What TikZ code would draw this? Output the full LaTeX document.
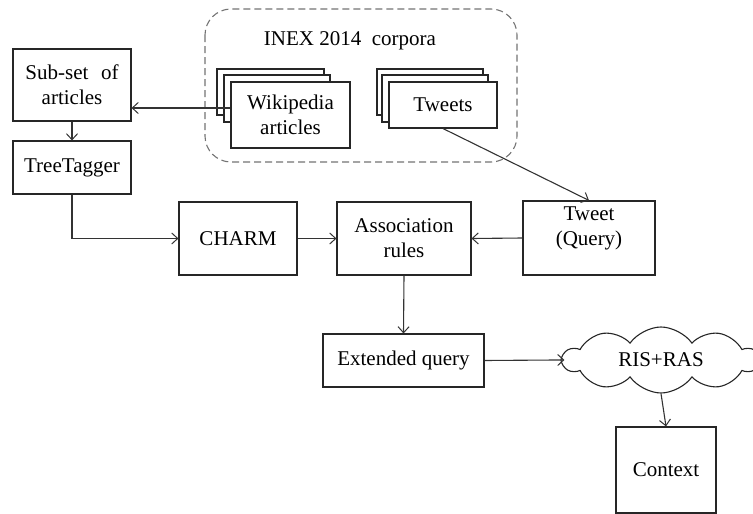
\documentclass[tikz,border=0pt]{standalone}
\usepackage{fontspec}
\setmainfont{Liberation Serif}
\usetikzlibrary{arrows.meta,shapes.symbols}

\tikzset{
  box/.style={draw=black!85, line width=1.1pt, fill=white, rectangle, inner sep=0pt,
              align=center, font=\fontsize{21}{25}\selectfont},
  page/.style={draw=black!85, line width=1.1pt, fill=white},
  link/.style={draw=black!80, line width=1.1pt,
               -{Straight Barb[length=6pt,width=11pt,line width=1pt]}},
  corpus/.style={draw=black!55, line width=1.1pt, dash pattern=on 7pt off 4pt,
                 rounded corners=26pt},
  lbl/.style={align=center, font=\fontsize{21}{25}\selectfont}
}

\begin{document}
\begin{tikzpicture}[x=1pt,y=-1pt]
\useasboundingbox (0,0) rectangle (753,514);
\clip (0,0) rectangle (753,514);

% corpus frame
\draw[corpus] (205,9) rectangle (517,162);
\node[lbl] (inex) at (350,41) {INEX 2014\hspace{0.5em}corpora};

% stacked Wikipedia pages
\draw[page] (217,69) rectangle (324,115);
\draw[page] (224,75) rectangle (330,122);
\node[box, minimum width=119pt, minimum height=66pt] (wiki) at (290.5,115) {Wikipedia\\articles};

% stacked tweet pages
\draw[page] (377,69) rectangle (483,115);
\draw[page] (382,75) rectangle (488,122);
\node[box, minimum width=108pt, minimum height=46pt] (tw) at (443,105) {Tweets};

% processing chain
\node[box, minimum width=118pt, minimum height=72pt] (sub) at (72,85) {Sub-set\hspace{0.6em}of\\articles};
\node[box, minimum width=118pt, minimum height=53pt] (tt) at (72,167.5) {TreeTagger};
\node[box, minimum width=118pt, minimum height=73pt] (charm) at (238,238.5) {CHARM};
\node[box, minimum width=134pt, minimum height=73pt] (assoc) at (404,238.5) {Association\\rules};
\node[box, minimum width=132pt, minimum height=74pt] (tq) at (589,238) {};
\node[lbl] (tqtext) at ([yshift=10pt]tq.center) {Tweet\\(Query)};
\node[box, minimum width=161pt, minimum height=53pt] (ext) at (403.5,360.5) {Extended query};
\node[cloud, cloud puffs=10, cloud puff arc=110, cloud ignores aspect,
      draw=black!85, line width=1.1pt,
      minimum width=196pt, minimum height=66pt, inner sep=0pt,
      font=\fontsize{21}{25}\selectfont] (ris) at (661,360) {RIS+RAS};
\node[box, minimum width=100pt, minimum height=86pt] (ctx) at (666,470) {Context};

% connectors
\draw[link] ([yshift=7pt]wiki.west) -- ([yshift=7pt]wiki.west -| sub.east);
\draw[link] (sub.south) -- (tt.north);
\draw[link] (tt.south) |- (charm.west);
\draw[link] (charm.east) -- (assoc.west);
\draw[link] (tq.west) -- (assoc.east);
\draw[link] (tw.south) -- (tq.north);
\draw[link] (assoc.south) -- (ext.north);
\draw[link] (ext.east) -- ([xshift=4pt]ris.west);
\draw[link] (ris.south) -- (ctx.north);
\end{tikzpicture}
\end{document}
